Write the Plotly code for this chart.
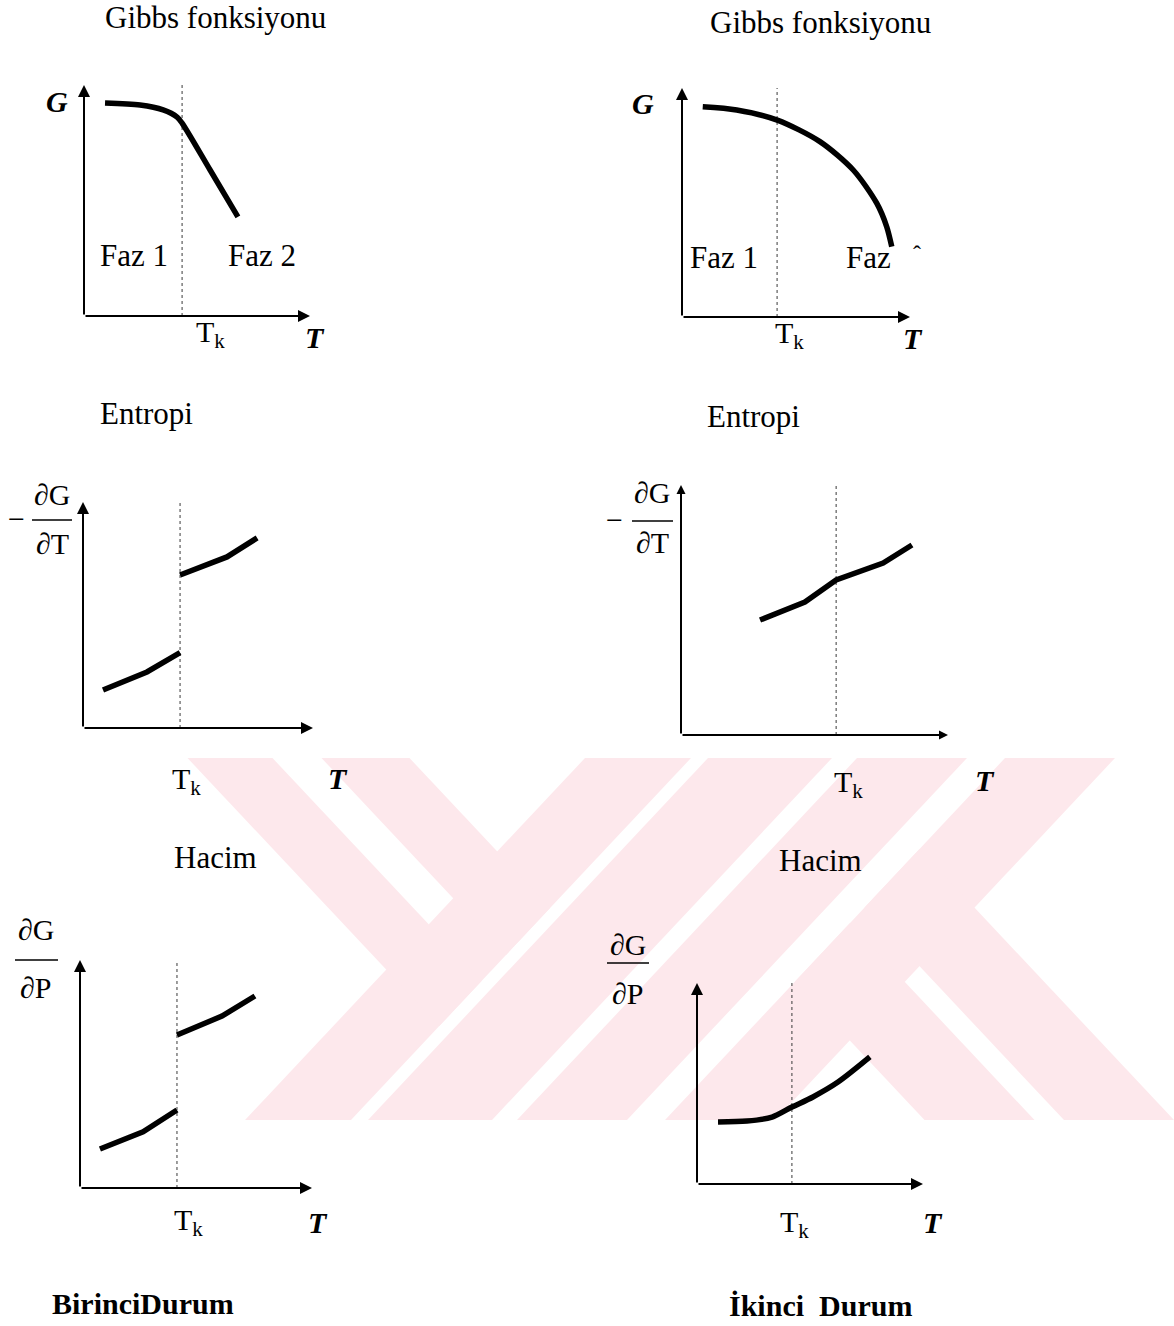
import plotly.graph_objects as go

W, H = 1174, 1326
SERIF = "Liberation Serif, Times New Roman, serif"
PINK = "#fde8ec"

# ---------------------------------------------------------------------------
# Curves, in panel units (origin = 0, arrow tips = 10 on both axes)
# ---------------------------------------------------------------------------
# First-order transition (Birinci Durum)
gibbs1_T = [0.93, 2.48, 3.50, 4.12, 4.34, 5.58, 6.81]
gibbs1_G = [9.22, 9.13, 8.92, 8.61, 8.35, 6.32, 4.29]
tk_gibbs1 = 4.34

entropy1_low_T = [0.87, 2.78, 4.22]
entropy1_low_S = [1.68, 2.48, 3.33]
entropy1_high_T = [4.22, 6.26, 7.57]
entropy1_high_S = [6.77, 7.57, 8.41]
tk_entropy1 = 4.22

volume1_low_T = [0.86, 2.72, 4.18]
volume1_low_V = [1.71, 2.46, 3.42]
volume1_high_T = [4.18, 6.12, 7.54]
volume1_high_V = [6.71, 7.54, 8.42]
tk_volume1 = 4.18

# Second-order transition (Ikinci Durum)
gibbs2_T = [0.91, 2.40, 4.18, 6.05, 7.51, 8.54, 8.98, 9.20]
gibbs2_G = [9.18, 9.04, 8.60, 7.66, 6.42, 4.97, 3.94, 3.07]
tk_gibbs2 = 4.17

entropy2_T = [2.96, 4.64, 5.81, 7.57, 8.65]
entropy2_S = [4.60, 5.32, 6.20, 6.88, 7.60]
tk_entropy2 = 5.81

volume2_T = [0.93, 2.21, 3.32, 4.20, 5.13, 6.24, 7.65]
volume2_V = [3.08, 3.13, 3.33, 3.83, 4.33, 5.07, 6.32]
tk_volume2 = 4.20

# ---------------------------------------------------------------------------
# Panel frames in page pixels: (origin x, arrow-tip x, origin y, arrow-tip y)
# ---------------------------------------------------------------------------
frames = {
    1: (84, 310, 316, 85),     # Gibbs, first order
    2: (682, 910, 317, 88),    # Gibbs, second order
    3: (83, 313, 728, 502),    # Entropi, first order
    4: (681, 948, 735, 485),   # Entropi, second order
    5: (80, 312, 1188, 960),   # Hacim, first order
    6: (697, 923, 1184, 983),  # Hacim, second order
}


def px(x):
    return x / W


def py(y):
    return 1 - y / H


fig = go.Figure()
layout = dict(
    width=W, height=H,
    margin=dict(l=0, r=0, t=0, b=0),
    paper_bgcolor="white",
    plot_bgcolor="rgba(0,0,0,0)",
    showlegend=False,
)
for i, (x0, x1, y0, y1) in frames.items():
    sfx = "" if i == 1 else str(i)
    layout[f"xaxis{sfx}"] = dict(domain=[px(x0), px(x1)], range=[0, 10],
                                 visible=False, anchor=f"y{sfx}", fixedrange=True)
    layout[f"yaxis{sfx}"] = dict(domain=[py(y0), py(y1)], range=[0, 10],
                                 visible=False, anchor=f"x{sfx}", fixedrange=True)
fig.update_layout(**layout)


def ax_names(i):
    sfx = "" if i == 1 else str(i)
    return f"x{sfx}", f"y{sfx}"


def curve(i, xs, ys, shape="linear"):
    xa, ya = ax_names(i)
    fig.add_trace(go.Scatter(
        x=xs, y=ys, xaxis=xa, yaxis=ya, mode="lines",
        line=dict(color="black", width=5.5, shape=shape, smoothing=0.8),
        cliponaxis=False, hoverinfo="skip"))


def tk_line(i, tk):
    xa, ya = ax_names(i)
    fig.add_trace(go.Scatter(
        x=[tk, tk], y=[0, 10], xaxis=xa, yaxis=ya, mode="lines",
        line=dict(color="#3a3a3a", width=1, dash="dot"),
        cliponaxis=False, hoverinfo="skip"))


annotations = []
shapes = []


def axes_arrows(i, head=1.2):
    xa, ya = ax_names(i)
    for tip in [(10, 0), (0, 10)]:
        annotations.append(dict(
            x=tip[0], y=tip[1], ax=0, ay=0, xref=xa, yref=ya, axref=xa, ayref=ya,
            showarrow=True, arrowhead=2, arrowsize=head, arrowwidth=2,
            arrowcolor="black", standoff=0, text=""))


def label(text, x, y, size=31):
    annotations.append(dict(
        text=text, x=px(x), y=py(y), xref="paper", yref="paper",
        showarrow=False, xanchor="center", yanchor="middle",
        font=dict(family=SERIF, size=size, color="black")))


def frac_bar(xa, xb, y):
    shapes.append(dict(type="line", xref="paper", yref="paper",
                       x0=px(xa), x1=px(xb), y0=py(y), y1=py(y),
                       line=dict(color="black", width=1.3)))


def polygon(points):
    path = "M" + " L".join(f"{px(x)},{py(y)}" for x, y in points) + " Z"
    shapes.append(dict(type="path", path=path, xref="paper", yref="paper",
                       fillcolor=PINK, line=dict(width=0), layer="below"))


# Watermark emblem: rising double bands plus shorter falling bands
TOP, BOT = 758, 1120
S = 340 / 362          # horizontal drift per pixel of height
rising = [  # (x of left edge at top, width)
    (585, 106), (708, 124), (857, 110), (1005, 110),
]
for xl, w in rising:
    drop = S * (BOT - TOP)
    polygon([(xl, TOP), (xl + w, TOP), (xl + w - drop, BOT), (xl - drop, BOT)])

# falling bands entering from the top edge, ending on a rising edge
stop_left = 691        # top x of the line where they end
for xl, w in [(187.5, 85), (321.5, 88)]:
    dl = (stop_left - xl) / (2 * S)
    dr = (stop_left - xl - w) / (2 * S)
    polygon([(xl, TOP), (xl + w, TOP),
             (xl + w + S * dr, TOP + dr), (xl + S * dl, TOP + dl)])

# falling bands entering from the bottom edge, ending on a rising edge
stop_right = 1005
for xl, w in [(924.5, 110), (1064, 110)]:
    yl = (stop_right - xl) / (2 * S) + (TOP + BOT) / 2
    yr = (stop_right - xl - w) / (2 * S) + (TOP + BOT) / 2
    polygon([(xl, BOT), (xl + w, BOT),
             (xl + w - S * (BOT - yr), yr), (xl - S * (BOT - yl), yl)])

# Panel 1 - Gibbs, first order
tk_line(1, tk_gibbs1)
curve(1, gibbs1_T, gibbs1_G, shape="spline")
axes_arrows(1)
label("Gibbs fonksiyonu", 215, 18)
label("<b><i>G</i></b>", 57, 102, 30)
label("<b><i>T</i></b>", 315, 337, 30)
label("T<sub>k</sub>", 210, 334, 30)
label("Faz 1", 134, 256)
label("Faz 2", 262, 256)

# Panel 2 - Gibbs, second order
tk_line(2, tk_gibbs2)
curve(2, gibbs2_T, gibbs2_G, shape="spline")
axes_arrows(2)
label("Gibbs fonksiyonu", 820, 22)
label("<b><i>G</i></b>", 643, 104, 30)
label("<b><i>T</i></b>", 913, 338, 30)
label("T<sub>k</sub>", 789, 335, 30)
label("Faz 1", 724, 258)
label("Faz", 868, 258)
label("ˆ", 917, 254, 24)

# Panel 3 - Entropi, first order
tk_line(3, tk_entropy1)
curve(3, entropy1_low_T, entropy1_low_S)
curve(3, entropy1_high_T, entropy1_high_S)
axes_arrows(3)
label("Entropi", 147, 413)
label("∂G", 52, 494, 30)
label("∂T", 52, 543, 30)
frac_bar(32, 72, 520)
label("−", 16, 519, 30)
label("T<sub>k</sub>", 186, 781, 30)
label("<b><i>T</i></b>", 338, 778, 30)

# Panel 4 - Entropi, second order
tk_line(4, tk_entropy2)
curve(4, entropy2_T, entropy2_S)
axes_arrows(4, head=0.9)
label("Entropi", 753, 416)
label("∂G", 652, 492, 30)
label("∂T", 652, 542, 30)
frac_bar(632, 673, 521)
label("−", 614, 520, 30)
label("T<sub>k</sub>", 849, 784, 30)
label("<b><i>T</i></b>", 985, 780, 30)

# Panel 5 - Hacim, first order
tk_line(5, tk_volume1)
curve(5, volume1_low_T, volume1_low_V)
curve(5, volume1_high_T, volume1_high_V)
axes_arrows(5)
label("Hacim", 215, 857)
label("∂G", 36, 930, 30)
label("∂P", 36, 987, 30)
frac_bar(15, 58, 960)
label("T<sub>k</sub>", 188, 1222, 30)
label("<b><i>T</i></b>", 318, 1222, 30)

# Panel 6 - Hacim, second order
tk_line(6, tk_volume2)
curve(6, volume2_T, volume2_V, shape="spline")
axes_arrows(6)
label("Hacim", 820, 860)
label("∂G", 628, 944, 30)
label("∂P", 628, 993, 30)
frac_bar(607, 649, 963)
label("T<sub>k</sub>", 794, 1224, 30)
label("<b><i>T</i></b>", 933, 1222, 30)

# Column captions
label("<b>BirinciDurum</b>", 143, 1303, 30)
label("<b>İkinci  Durum</b>", 820, 1305, 30)

fig.update_layout(annotations=annotations, shapes=shapes)
fig.write_html("out.html")
